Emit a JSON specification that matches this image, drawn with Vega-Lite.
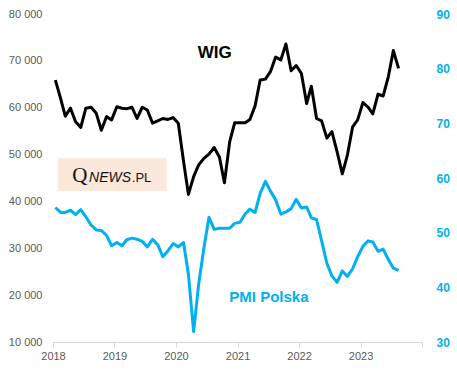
{
  "$schema": "https://vega.github.io/schema/vega-lite/v6.json",
  "width": 369,
  "height": 328,
  "autosize": {"type": "none"},
  "padding": {"left": 53, "top": 14, "right": 35, "bottom": 31},
  "background": "white",
  "config": {"view": {"stroke": null}, "font": "Liberation Sans", "axis": {"grid": false}},
  "data": {"name": "series"},
  "datasets": {
    "series": [
      {"date": "2018-01-15", "wig": 65900, "pmi": 54.6},
      {"date": "2018-02-15", "wig": 62000, "pmi": 53.7},
      {"date": "2018-03-15", "wig": 58200, "pmi": 53.7},
      {"date": "2018-04-15", "wig": 59900, "pmi": 54.1},
      {"date": "2018-05-15", "wig": 57000, "pmi": 53.3},
      {"date": "2018-06-15", "wig": 55800, "pmi": 54.2},
      {"date": "2018-07-15", "wig": 59900, "pmi": 52.9},
      {"date": "2018-08-15", "wig": 60100, "pmi": 51.4},
      {"date": "2018-09-15", "wig": 58800, "pmi": 50.5},
      {"date": "2018-10-15", "wig": 55200, "pmi": 50.4},
      {"date": "2018-11-15", "wig": 58100, "pmi": 49.5},
      {"date": "2018-12-15", "wig": 57400, "pmi": 47.6},
      {"date": "2019-01-15", "wig": 60200, "pmi": 48.2},
      {"date": "2019-02-15", "wig": 59900, "pmi": 47.6},
      {"date": "2019-03-15", "wig": 59800, "pmi": 48.7},
      {"date": "2019-04-15", "wig": 60100, "pmi": 49.0},
      {"date": "2019-05-15", "wig": 57700, "pmi": 48.8},
      {"date": "2019-06-15", "wig": 60100, "pmi": 48.4},
      {"date": "2019-07-15", "wig": 59500, "pmi": 47.4},
      {"date": "2019-08-15", "wig": 56700, "pmi": 48.8},
      {"date": "2019-09-15", "wig": 57200, "pmi": 47.8},
      {"date": "2019-10-15", "wig": 57700, "pmi": 45.6},
      {"date": "2019-11-15", "wig": 57500, "pmi": 46.7},
      {"date": "2019-12-15", "wig": 57900, "pmi": 48.0},
      {"date": "2020-01-15", "wig": 56700, "pmi": 47.4},
      {"date": "2020-02-15", "wig": 48600, "pmi": 48.2},
      {"date": "2020-03-15", "wig": 41500, "pmi": 42.4},
      {"date": "2020-04-15", "wig": 45300, "pmi": 31.9},
      {"date": "2020-05-15", "wig": 47800, "pmi": 40.6},
      {"date": "2020-06-15", "wig": 49200, "pmi": 47.2},
      {"date": "2020-07-15", "wig": 50100, "pmi": 52.8},
      {"date": "2020-08-15", "wig": 51500, "pmi": 50.6},
      {"date": "2020-09-15", "wig": 49500, "pmi": 50.8},
      {"date": "2020-10-15", "wig": 44000, "pmi": 50.8},
      {"date": "2020-11-15", "wig": 52700, "pmi": 50.8},
      {"date": "2020-12-15", "wig": 56800, "pmi": 51.7},
      {"date": "2021-01-15", "wig": 56800, "pmi": 51.9},
      {"date": "2021-02-15", "wig": 56800, "pmi": 53.4},
      {"date": "2021-03-15", "wig": 57500, "pmi": 54.3},
      {"date": "2021-04-15", "wig": 60400, "pmi": 53.7},
      {"date": "2021-05-15", "wig": 65900, "pmi": 57.2},
      {"date": "2021-06-15", "wig": 66100, "pmi": 59.4},
      {"date": "2021-07-15", "wig": 67700, "pmi": 57.6},
      {"date": "2021-08-15", "wig": 70800, "pmi": 56.0},
      {"date": "2021-09-15", "wig": 70200, "pmi": 53.4},
      {"date": "2021-10-15", "wig": 73600, "pmi": 53.8},
      {"date": "2021-11-15", "wig": 67900, "pmi": 54.4},
      {"date": "2021-12-15", "wig": 69000, "pmi": 56.1},
      {"date": "2022-01-15", "wig": 67300, "pmi": 54.5},
      {"date": "2022-02-15", "wig": 60900, "pmi": 54.7},
      {"date": "2022-03-15", "wig": 64600, "pmi": 52.7},
      {"date": "2022-04-15", "wig": 57700, "pmi": 52.4},
      {"date": "2022-05-15", "wig": 57200, "pmi": 48.5},
      {"date": "2022-06-15", "wig": 53500, "pmi": 44.4},
      {"date": "2022-07-15", "wig": 54900, "pmi": 42.1},
      {"date": "2022-08-15", "wig": 50600, "pmi": 40.9},
      {"date": "2022-09-15", "wig": 45900, "pmi": 43.0},
      {"date": "2022-10-15", "wig": 49900, "pmi": 42.0},
      {"date": "2022-11-15", "wig": 55900, "pmi": 43.4},
      {"date": "2022-12-15", "wig": 57400, "pmi": 45.6},
      {"date": "2023-01-15", "wig": 61100, "pmi": 47.5},
      {"date": "2023-02-15", "wig": 60100, "pmi": 48.5},
      {"date": "2023-03-15", "wig": 58700, "pmi": 48.3},
      {"date": "2023-04-15", "wig": 62900, "pmi": 46.6},
      {"date": "2023-05-15", "wig": 62500, "pmi": 47.0},
      {"date": "2023-06-15", "wig": 66600, "pmi": 45.1},
      {"date": "2023-07-15", "wig": 72200, "pmi": 43.5},
      {"date": "2023-08-15", "wig": 68400, "pmi": 43.1}
    ]
  },
  "encoding": {
    "x": {
      "field": "date",
      "type": "temporal",
      "scale": {"domain": [{"year": 2018, "month": 1, "date": 1}, {"year": 2024, "month": 1, "date": 1}]},
      "axis": {
        "title": null,
        "values": [
          {"year": 2018, "month": 1, "date": 1},
          {"year": 2019, "month": 1, "date": 1},
          {"year": 2020, "month": 1, "date": 1},
          {"year": 2021, "month": 1, "date": 1},
          {"year": 2022, "month": 1, "date": 1},
          {"year": 2023, "month": 1, "date": 1},
          {"year": 2024, "month": 1, "date": 1}
        ],
        "format": "%Y",
        "labelExpr": "year(datum.value) > 2023 ? '' : datum.label",
        "labelFlush": false,
        "labelOverlap": false,
        "domainColor": "#D9D9D9",
        "tickColor": "#D9D9D9",
        "tickSize": 5,
        "labelColor": "#595959",
        "labelFontSize": 11,
        "labelPadding": 3,
        "grid": false
      }
    }
  },
  "layer": [
    {
      "encoding": {
        "y": {
          "field": "wig",
          "type": "quantitative",
          "scale": {"domain": [10000, 80000], "nice": false, "zero": false},
          "axis": {
            "orient": "left",
            "title": null,
            "values": [10000, 20000, 30000, 40000, 50000, 60000, 70000, 80000],
            "labelExpr": "format(datum.value / 1000, 'd') + ' 000'",
            "ticks": false,
            "domain": false,
            "grid": false,
            "labelColor": "#595959",
            "labelFontSize": 11,
            "labelPadding": 11
          }
        }
      },
      "layer": [
        {
          "data": {"values": [{"date": "2018-01-29", "date2": "2019-11-07", "wig": 49200, "wig2": 42200}]},
          "mark": {"type": "rect", "color": "#FCE8DA"},
          "encoding": {"x2": {"field": "date2"}, "y2": {"field": "wig2"}}
        },
        {
          "mark": {"type": "line", "color": "#000000", "strokeWidth": 3, "strokeJoin": "round"}
        },
        {
          "data": {"values": [{"date": "2020-08-18", "wig": 71700, "label": "WIG"}]},
          "mark": {"type": "text", "fontSize": 17, "fontWeight": "bold", "color": "#000000", "align": "center", "baseline": "middle"},
          "encoding": {"text": {"field": "label"}}
        },
        {
          "data": {"values": [{"date": "2018-04-26", "wig": 44200, "label": "Q"}]},
          "mark": {"type": "text", "font": "Liberation Serif", "fontSize": 21, "color": "#111111", "align": "left", "baseline": "alphabetic"},
          "encoding": {"text": {"field": "label"}}
        },
        {
          "data": {"values": [{"date": "2018-08-03", "wig": 44200, "label": "NEWS"}]},
          "mark": {"type": "text", "fontSize": 14, "fontStyle": "italic", "color": "#111111", "align": "left", "baseline": "alphabetic"},
          "encoding": {"text": {"field": "label"}}
        },
        {
          "data": {"values": [{"date": "2019-04-14", "wig": 44200, "label": ".PL"}]},
          "mark": {"type": "text", "fontSize": 13, "color": "#111111", "align": "left", "baseline": "alphabetic"},
          "encoding": {"text": {"field": "label"}}
        }
      ]
    },
    {
      "encoding": {
        "y": {
          "field": "pmi",
          "type": "quantitative",
          "scale": {"domain": [30, 90], "nice": false, "zero": false},
          "axis": {
            "orient": "right",
            "title": null,
            "values": [30, 40, 50, 60, 70, 80, 90],
            "ticks": false,
            "domain": false,
            "grid": false,
            "labelColor": "#00B0F0",
            "labelFontSize": 12,
            "labelFontWeight": "bold",
            "labelPadding": 14
          }
        }
      },
      "layer": [
        {
          "mark": {"type": "line", "color": "#00B0F0", "strokeWidth": 3, "strokeJoin": "round"}
        },
        {
          "data": {"values": [{"date": "2021-07-06", "pmi": 38.2, "label": "PMI Polska"}]},
          "mark": {"type": "text", "fontSize": 15, "fontWeight": "bold", "color": "#00B0F0", "align": "center", "baseline": "middle"},
          "encoding": {"text": {"field": "label"}}
        }
      ]
    }
  ],
  "resolve": {"scale": {"y": "independent"}}
}
